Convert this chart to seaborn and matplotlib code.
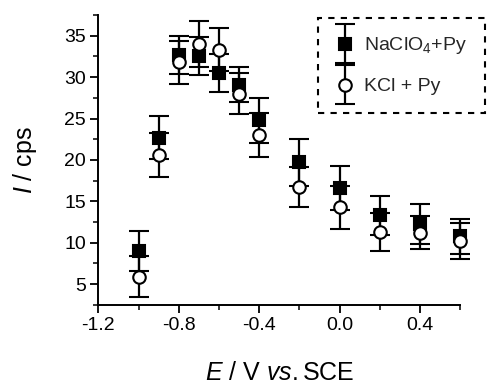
import matplotlib
matplotlib.use("Agg")
import matplotlib.pyplot as plt
import seaborn as sns
import numpy as np
from matplotlib.ticker import MultipleLocator
from matplotlib.legend_handler import HandlerErrorbar
from matplotlib.container import ErrorbarContainer

E = [-1.0, -0.9, -0.8, -0.7, -0.6, -0.5, -0.4, -0.2, 0.0, 0.2, 0.4, 0.6]
naclo4 = [9.0, 22.7, 32.7, 32.5, 30.5, 29.1, 24.8, 19.7, 16.6, 13.3, 12.3, 10.8]
naclo4_err = [2.4, 2.6, 2.3, 2.3, 2.3, 2.1, 2.7, 2.8, 2.7, 2.4, 2.4, 2.1]
kcl = [5.9, 20.6, 31.8, 34.0, 33.3, 28.0, 23.0, 16.7, 14.3, 11.3, 11.2, 10.2]
kcl_err = [2.5, 2.6, 2.6, 2.8, 2.6, 2.5, 2.7, 2.4, 2.6, 2.3, 2.0, 2.2]
labels = ["NaClO$_4$+Py", "KCl + Py"]

sns.set_theme(style="ticks")
plt.rcParams["font.family"] = ["Liberation Sans", "DejaVu Sans"]
plt.rcParams["mathtext.fontset"] = "custom"
plt.rcParams["mathtext.rm"] = "Liberation Sans"
plt.rcParams["mathtext.it"] = "Liberation Sans:italic"
plt.rcParams["axes.unicode_minus"] = False

fig = plt.figure(figsize=(4.87, 3.84), dpi=100)
ax = fig.add_axes([0.202, 0.206, 0.743, 0.755])

common = dict(ecolor="black", elinewidth=1.6, capsize=7, capthick=1.6,
              markersize=9, markeredgewidth=1.5, markeredgecolor="black",
              linestyle="none", clip_on=False)
h1 = ax.errorbar(E, naclo4, yerr=naclo4_err, fmt="s", color="black",
                 markerfacecolor="black", label=labels[0], zorder=3, **common)
h2 = ax.errorbar(E, kcl, yerr=kcl_err, fmt="o", color="black",
                 markerfacecolor="white", label=labels[1], zorder=4, **common)

ax.set_xlim(-1.2, 0.6)
ax.set_ylim(2.5, 37.5)
ax.xaxis.set_minor_locator(MultipleLocator(0.2))
ax.yaxis.set_minor_locator(MultipleLocator(2.5))
ax.set_xticks([-1.2, -0.8, -0.4, 0.0, 0.4])
ax.set_xticklabels(["-1.2", "-0.8", "-0.4", "0.0", "0.4"])
ax.set_yticks([5, 10, 15, 20, 25, 30, 35])
ax.tick_params(axis="both", which="major", direction="out", length=6, width=1.3,
               labelsize=14, color="black", labelcolor="black", pad=3)
ax.tick_params(axis="both", which="minor", direction="out", length=3.5, width=1.1,
               color="black")
sns.despine(ax=ax)
for s in ["left", "bottom"]:
    ax.spines[s].set_linewidth(1.4)
    ax.spines[s].set_color("black")

ax.set_xlabel(r"$E$ / V $vs.$SCE", fontsize=18, color="black", labelpad=19)
ax.set_ylabel(r"$I$ / cps", fontsize=18, color="black", labelpad=18)

leg = ax.legend(handles=[h1, h2], loc="upper right", bbox_to_anchor=(1.068, 0.99),
                fontsize=14, frameon=True, fancybox=False, framealpha=1,
                handlelength=1.0, handletextpad=0.5, borderpad=0.9,
                labelspacing=1.1, borderaxespad=0,
                handler_map={ErrorbarContainer: HandlerErrorbar(xerr_size=0.5, yerr_size=1.0)})
fr = leg.get_frame()
fr.set_edgecolor("black")
fr.set_linewidth(1.5)
fr.set_linestyle((0, (3, 3)))
leg.set_clip_on(False)

fig.savefig("out.png", dpi=100)
